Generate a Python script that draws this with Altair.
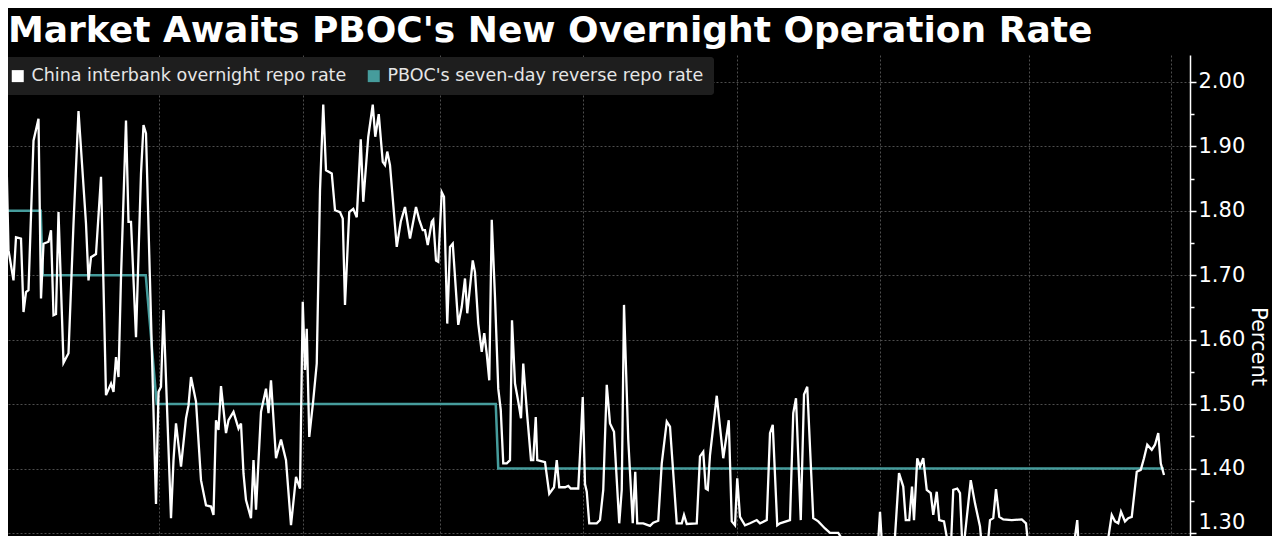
import altair as alt
import pandas as pd

TITLE = "Market Awaits PBOC's New Overnight Operation Rate"
SERIES = ["China interbank overnight repo rate", "PBOC's seven-day reverse repo rate"]
COLORS = ["#ffffff", "#469c9c"]
Y_TITLE = "Percent"

# x = trading sessions counted from the start of Q3 2024
REPO_SESSION = [
    -2, -1, 0, 1, 3, 4, 6, 7, 8, 9, 11, 13, 14, 15, 17, 18, 19, 20, 21, 23,
    25, 27, 29, 32, 33, 34, 36, 38, 40, 42, 43, 44, 45, 46, 48, 49, 50, 52, 54, 55,
    56, 60, 61, 62, 63, 66, 67, 68, 70, 72, 73, 74, 76, 78, 80, 82, 83, 84, 85, 86,
    88, 89, 91, 93, 94, 95, 96, 98, 99, 100, 102, 104, 105, 106, 108, 110, 112, 114, 116,
    117.6, 118.7, 119.6, 120.3, 121.3, 122.9, 124.3, 125.6, 126.9, 128.0, 130.3, 131.6,
    133.6, 134.7, 135.6, 137.3, 138.9, 140.3, 141.9, 142.9, 144.9, 146.7, 147.7, 149.1,
    150.7, 151.6, 152.5, 153.6, 156.3, 157.9, 159.6, 161.6, 164.0, 165.3, 166.7, 167.6,
    168.7, 170.3, 170.9, 172.0, 172.9, 174.3, 175.2, 176.5, 177.6,
    178.7, 180.9, 182.3, 183.6, 184.5, 186.7, 187.6, 188.9, 190.3, 191.3, 192.3, 193.3,
    194.3, 195.6, 196.9, 197.9, 198.9, 200.3, 201.6, 202.4, 203.6, 204.9, 206.0, 206.9,
    208.3, 210.0, 210.9, 211.9, 212.5, 215.6, 217.3, 219.2, 220.3, 221.3, 223.6, 224.9,
    225.9, 228.9, 229.9, 230.7, 231.6, 232.3, 233.3, 236.3, 237.6,
    238.9, 240.3, 241.6, 243.2, 245.3, 246.3, 247.2, 248.9, 250.7, 251.7, 252.5, 254.9,
    257.6, 258.9, 260.9, 262.3, 264.3, 265.6, 268.3, 270.3, 271.2, 272.3, 276.3, 277.6,
    278.9, 279.9, 280.7, 281.6, 284.3, 286.9, 289.1, 290.3, 291.6, 292.5, 293.6, 295.6,
    297.6,
    300.3, 301.6, 304.3, 305.6, 306.7, 308.5, 309.6, 313.6, 314.9, 316.0, 317.9, 319.2,
    320.5, 322.9, 324.9, 327.6, 329.6, 332.9, 335.6, 337.6, 341.6, 345.6, 348.4, 349.6,
    350.8, 353.6, 355.2, 357.2,
    358.9, 359.9, 361.3, 362.4, 363.2, 364.5, 365.6, 366.9, 368.3, 369.9, 370.9, 372.3,
    373.3, 375.2, 376.9, 377.8, 378.9, 380.5, 381.6, 382.7, 385.9, 387.6, 389.6, 390.3,
    391.2, 392.4, 393.6, 394.9, 396.0, 397.3, 398.9, 402.3, 406.3, 408.0, 408.9, 410.4,
    415.6, 421.6, 426.4, 428.5, 429.3, 433.6, 437.6, 439.6,
    440.9, 442.3, 443.6, 444.9, 446.0, 447.6, 448.9, 450.3, 452.3, 453.9, 455.2, 456.5,
    458.3, 459.6, 460.9, 461.9, 463.2,
]
REPO_RATE = [
    1.972, 1.876, 1.915, 1.739, 1.692, 1.759, 1.757, 1.643, 1.674, 1.677, 1.909, 1.943,
    1.664, 1.749, 1.752, 1.770, 1.638, 1.640, 1.798, 1.564,
    1.579, 1.780, 1.955, 1.780, 1.692, 1.728, 1.733, 1.853, 1.514, 1.532, 1.519, 1.573,
    1.542, 1.697, 1.940, 1.783, 1.783, 1.604, 1.858, 1.933,
    1.920, 1.345, 1.519, 1.527, 1.646, 1.323, 1.413, 1.470, 1.403, 1.478, 1.498, 1.542,
    1.504, 1.382, 1.343, 1.341, 1.328, 1.475, 1.460, 1.528,
    1.455, 1.475, 1.488, 1.462, 1.470, 1.392, 1.351, 1.323, 1.413, 1.336, 1.488, 1.524,
    1.486, 1.537, 1.416, 1.445, 1.413, 1.312, 1.387,
    1.369, 1.659, 1.553, 1.617, 1.449, 1.506, 1.563, 1.832, 1.965, 1.863, 1.858, 1.801,
    1.798, 1.788, 1.654, 1.798, 1.803, 1.790, 1.911, 1.814, 1.915, 1.965, 1.915, 1.950,
    1.876, 1.871, 1.892, 1.871, 1.744, 1.783, 1.806, 1.757, 1.806, 1.786, 1.770, 1.770,
    1.747, 1.783, 1.786, 1.723, 1.721, 1.829, 1.822, 1.625, 1.744,
    1.749, 1.623, 1.651, 1.695, 1.641, 1.723, 1.705, 1.625, 1.581, 1.610, 1.578, 1.537,
    1.786, 1.666, 1.524, 1.491, 1.408, 1.408, 1.413, 1.630, 1.532, 1.504, 1.478, 1.563,
    1.491, 1.413, 1.413, 1.480, 1.413, 1.410, 1.361, 1.371, 1.413, 1.371, 1.371, 1.373,
    1.369, 1.369, 1.444, 1.511, 1.376, 1.364, 1.315, 1.315, 1.320,
    1.367, 1.530, 1.470, 1.457, 1.315, 1.367, 1.654, 1.445, 1.315, 1.395, 1.315, 1.315,
    1.311, 1.316, 1.319, 1.408, 1.473, 1.465, 1.315, 1.315, 1.328, 1.314, 1.315, 1.419,
    1.426, 1.369, 1.367, 1.421, 1.513, 1.416, 1.475, 1.318, 1.312, 1.385, 1.325, 1.312,
    1.315,
    1.320, 1.315, 1.320, 1.455, 1.468, 1.312, 1.315, 1.320, 1.486, 1.509, 1.320, 1.515,
    1.527, 1.323, 1.318, 1.307, 1.300, 1.300, 1.284, 1.262, 1.250, 1.250, 1.255, 1.333,
    1.255, 1.250, 1.270, 1.393,
    1.372, 1.320, 1.320, 1.372, 1.320, 1.416, 1.403, 1.416, 1.367, 1.362, 1.328, 1.364,
    1.320, 1.318, 1.281, 1.262, 1.367, 1.369, 1.362, 1.265, 1.382, 1.346, 1.310, 1.280,
    1.262, 1.270, 1.320, 1.323, 1.368, 1.325, 1.321, 1.320, 1.321, 1.315, 1.280, 1.250,
    1.240, 1.250, 1.260, 1.320, 1.262, 1.250, 1.260, 1.284,
    1.292, 1.328, 1.318, 1.315, 1.333, 1.318, 1.323, 1.325, 1.395, 1.398, 1.416, 1.437,
    1.429, 1.437, 1.455, 1.408, 1.390,
]
POLICY_SESSION = [-3, 13.9, 14.7, 55.9, 60.3, 195.9, 196.9, 463.2]
POLICY_RATE = [1.80, 1.80, 1.70, 1.70, 1.50, 1.50, 1.40, 1.40]

QUARTER_STARTS = [0, 61.2, 118.8, 173.6, 230.8, 292.4, 349.6, 409.2, 466.0]
Y_TICKS = [1.30, 1.35, 1.40, 1.45, 1.50, 1.55, 1.60, 1.65, 1.70, 1.75, 1.80,
           1.85, 1.90, 1.95, 2.00]
X_DOMAIN = [0.8, 473.6]
Y_DOMAIN = [1.2953, 2.0419]

df = pd.concat([
    pd.DataFrame({"session": REPO_SESSION, "rate": REPO_RATE, "series": SERIES[0]}),
    pd.DataFrame({"session": POLICY_SESSION, "rate": POLICY_RATE, "series": SERIES[1]}),
], ignore_index=True)

MAJOR = "round(datum.value * 20) % 2 == 0"
GRID = "#4d4d4d"
FONT = "DejaVu Sans"

x_enc = alt.X(
    "session:Q",
    scale=alt.Scale(domain=X_DOMAIN, nice=False, zero=False),
    axis=alt.Axis(values=QUARTER_STARTS, grid=True, gridColor=GRID, gridDash=[2, 2],
                  labels=False, ticks=False, domain=False, title=None),
)
y_enc = alt.Y(
    "rate:Q",
    scale=alt.Scale(domain=Y_DOMAIN, nice=False, zero=False),
    axis=alt.Axis(
        orient="right", values=Y_TICKS,
        labelExpr=f"{MAJOR} ? format(datum.value, '.2f') : ''",
        labelBaseline={"condition": {"test": "datum.value < 1.32", "value": "bottom"},
                       "value": "middle"},
        tickSize={"condition": {"test": MAJOR, "value": 6}, "value": 4},
        tickColor="white", tickWidth=1.5,
        domainColor="white", domainWidth=1.5,
        labelColor="white", labelFont=FONT, labelFontSize=21, labelPadding=2,
        grid=True, gridColor=GRID, gridDash=[2, 2],
        gridOpacity={"condition": {"test": MAJOR, "value": 1}, "value": 0},
        title=Y_TITLE, titleColor="white", titleFont=FONT, titleFontSize=21,
        titleFontWeight="normal", titlePadding=3, titleY=291,
    ),
)

base = alt.Chart(df).encode(x=x_enc, y=y_enc)

policy = base.transform_filter(
    alt.FieldEqualPredicate(field="series", equal=SERIES[1])
).mark_line(clip=True, color=COLORS[1], strokeWidth=2.5)

repo = base.transform_filter(
    alt.FieldEqualPredicate(field="series", equal=SERIES[0])
).mark_line(clip=True, color=COLORS[0], strokeWidth=2.3)

legend_layer = base.transform_filter("false").mark_square(size=144, opacity=1).encode(
    fill=alt.Fill(
        "series:N",
        scale=alt.Scale(domain=SERIES, range=COLORS),
        legend=alt.Legend(
            orient="none", legendX=-9, legendY=2, direction="horizontal", title=None,
            fillColor="#1e1e1e", padding=10, cornerRadius=3,
            symbolType="square", symbolSize=144, symbolStrokeWidth=0,
            labelFont=FONT, labelFontSize=17.5, labelColor="#e6e6e6",
            labelOffset=5, columnPadding=18, labelLimit=0,
        ),
    )
)

title_layer = alt.Chart(pd.DataFrame({"title": [TITLE]})).mark_text(
    align="left", baseline="alphabetic", font=FONT, fontSize=36, fontWeight="bold",
    color="white",
).encode(x=alt.value(0), y=alt.value(-13), text="title:N")

chart = alt.layer(policy, repo, legend_layer, title_layer).properties(
    width=1182,
    height=481,
    autosize=alt.AutoSizeParams(type="none"),
    padding={"left": 0, "top": 47, "right": 82, "bottom": 0},
).configure(background="black").configure_view(strokeWidth=0)

chart.save("out.html", embed_options={"renderer": "svg", "actions": False})
